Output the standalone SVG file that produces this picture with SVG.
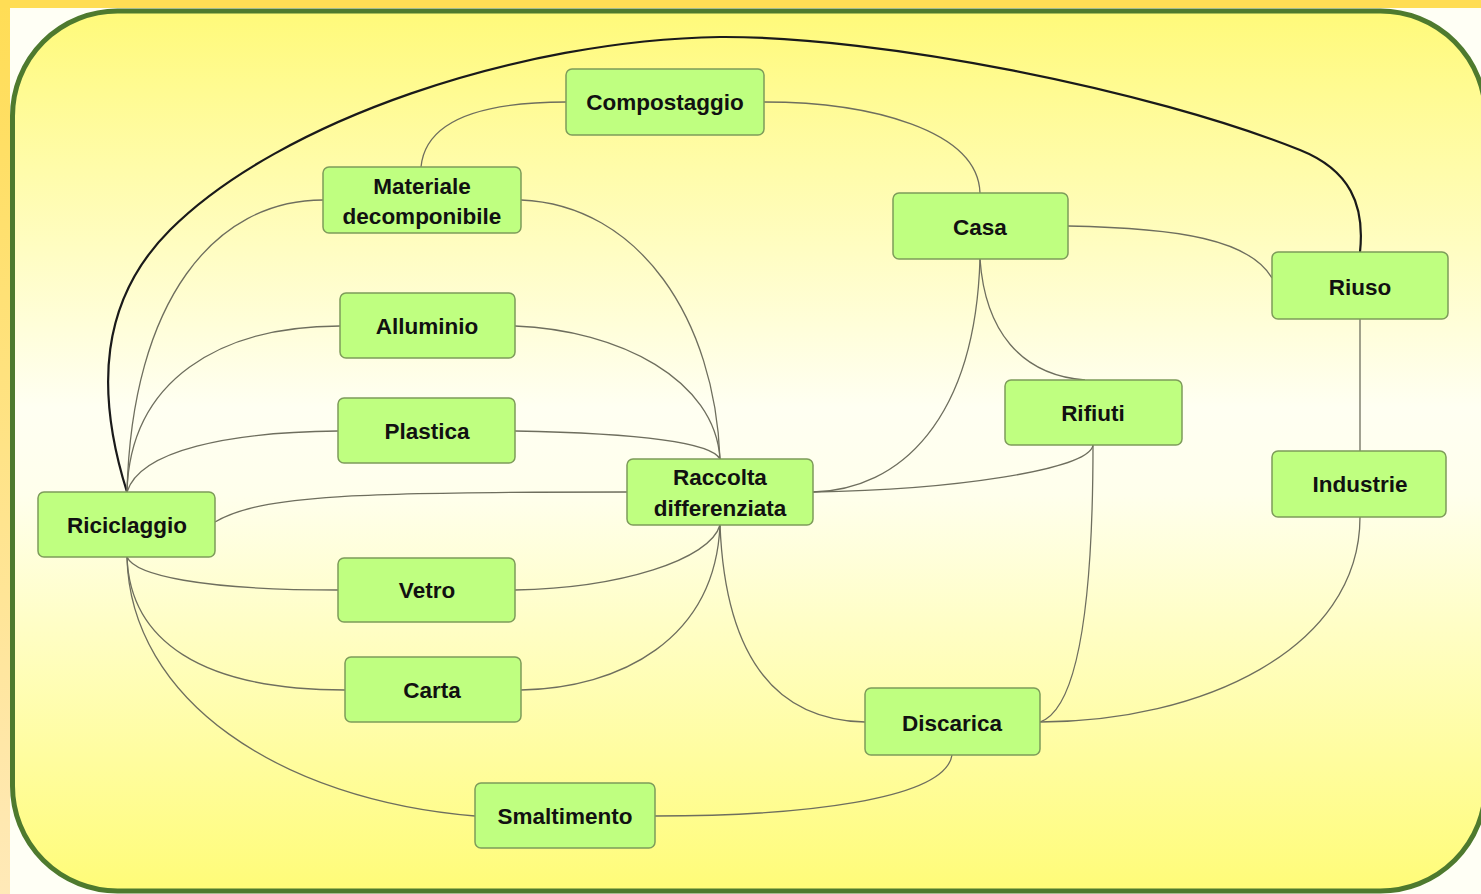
<svg xmlns="http://www.w3.org/2000/svg" width="1481" height="894" viewBox="0 0 1481 894">
  <defs>
    <linearGradient id="bg" x1="0" y1="0" x2="0" y2="1">
      <stop offset="0" stop-color="#FFFA7A"/>
      <stop offset="0.45" stop-color="#FFFFF2"/>
      <stop offset="0.55" stop-color="#FFFFEC"/>
      <stop offset="1" stop-color="#FFFC78"/>
    </linearGradient>
    <linearGradient id="band" x1="0" y1="0" x2="0" y2="1">
      <stop offset="0" stop-color="#FFDD55"/>
      <stop offset="1" stop-color="#FFE9B8"/>
    </linearGradient>
  </defs>
  <style>
    .node rect { fill: #BFFF80; stroke: #7E9C5A; stroke-width: 1.5; }
    .node text { font-family: "Liberation Sans", Arial, sans-serif; font-weight: bold; font-size: 22.5px; fill: #111; text-anchor: middle; }
    .conn path { fill: none; stroke: #6E6E5E; stroke-width: 1.3; }
    .conn path.main { stroke: #1A1A1A; stroke-width: 2.2; }
  </style>
  <!-- background -->
  <rect x="0" y="0" width="1481" height="894" fill="#FFFFF5"/>
  <rect x="0" y="0" width="10" height="894" fill="url(#band)"/>
  <rect x="0" y="0" width="1481" height="8" fill="#FFDD55"/>
  <rect x="12.5" y="11" width="1473" height="880" rx="105" ry="105" fill="url(#bg)" stroke="#4E7A2E" stroke-width="5"/>

  <g id="connectors" class="conn">
    <path class="main" d="M127,492 C95,390 100,300 170,230 C280,120 520,40 720,37 C880,36 1150,90 1300,150 C1350,170 1365,205 1360,252"/>
    <path d="M566,102 C470,102 425,125 421,167"/>
    <path d="M764,102 C870,102 978,130 980,193"/>
    <path d="M323,200 C215,200 132,300 127,492"/>
    <path d="M521,200 C640,205 715,320 720,459"/>
    <path d="M340,326 C220,326 130,380 127,492"/>
    <path d="M338,431 C230,432 140,450 127,492"/>
    <path d="M515,326 C620,330 715,380 720,459"/>
    <path d="M515,431 C620,433 710,440 720,459"/>
    <path d="M215,522 C260,495 360,492 627,492"/>
    <path d="M127,557 C135,575 200,590 338,590"/>
    <path d="M127,557 C130,640 200,690 345,690"/>
    <path d="M127,557 C130,700 280,800 475,816"/>
    <path d="M515,590 C620,588 710,560 720,525"/>
    <path d="M521,690 C620,688 715,640 720,525"/>
    <path d="M720,525 C725,650 770,720 865,722"/>
    <path d="M813,492 C900,490 975,420 980,259"/>
    <path d="M813,492 C950,490 1090,470 1093,445"/>
    <path d="M980,259 C985,330 1020,375 1085,380"/>
    <path d="M1068,226 C1180,228 1250,240 1272,278"/>
    <path d="M1360,319 L1360,451"/>
    <path d="M1360,517 C1360,650 1200,722 1040,722"/>
    <path d="M1093,445 C1093,620 1075,710 1040,722"/>
    <path d="M952,755 C945,800 800,816 655,816"/>
  </g>

  <g id="compostaggio" class="node"><rect x="566" y="69" width="198" height="66" rx="6"/><text x="665" y="110">Compostaggio</text></g>
  <g id="materiale" class="node"><rect x="323" y="167" width="198" height="66" rx="6"/><text x="422" y="194">Materiale</text><text x="422" y="224">decomponibile</text></g>
  <g id="casa" class="node"><rect x="893" y="193" width="175" height="66" rx="6"/><text x="980" y="235">Casa</text></g>
  <g id="riuso" class="node"><rect x="1272" y="252" width="176" height="67" rx="6"/><text x="1360" y="295">Riuso</text></g>
  <g id="alluminio" class="node"><rect x="340" y="293" width="175" height="65" rx="6"/><text x="427" y="334">Alluminio</text></g>
  <g id="rifiuti" class="node"><rect x="1005" y="380" width="177" height="65" rx="6"/><text x="1093" y="421">Rifiuti</text></g>
  <g id="plastica" class="node"><rect x="338" y="398" width="177" height="65" rx="6"/><text x="427" y="439">Plastica</text></g>
  <g id="industrie" class="node"><rect x="1272" y="451" width="174" height="66" rx="6"/><text x="1360" y="492">Industrie</text></g>
  <g id="raccolta" class="node"><rect x="627" y="459" width="186" height="66" rx="6"/><text x="720" y="485">Raccolta</text><text x="720" y="516">differenziata</text></g>
  <g id="riciclaggio" class="node"><rect x="38" y="492" width="177" height="65" rx="6"/><text x="127" y="533">Riciclaggio</text></g>
  <g id="vetro" class="node"><rect x="338" y="558" width="177" height="64" rx="6"/><text x="427" y="598">Vetro</text></g>
  <g id="carta" class="node"><rect x="345" y="657" width="176" height="65" rx="6"/><text x="432" y="698">Carta</text></g>
  <g id="discarica" class="node"><rect x="865" y="688" width="175" height="67" rx="6"/><text x="952" y="731">Discarica</text></g>
  <g id="smaltimento" class="node"><rect x="475" y="783" width="180" height="65" rx="6"/><text x="565" y="824">Smaltimento</text></g>
</svg>
